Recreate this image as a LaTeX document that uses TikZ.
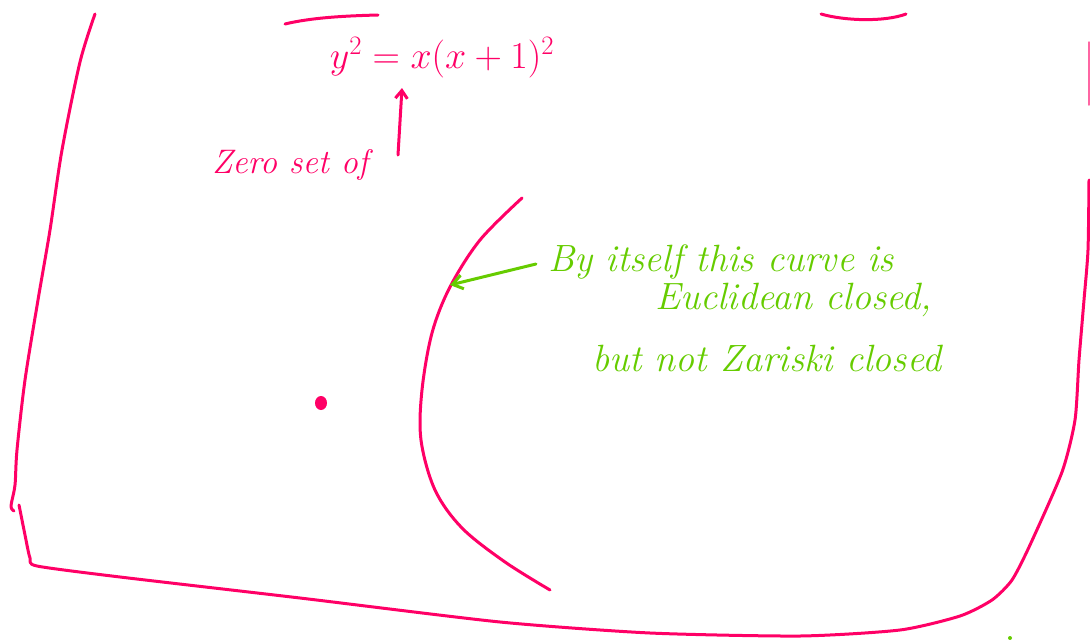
\RequirePackage{fix-cm}
\documentclass[tikz,border=0pt]{standalone}
\usepackage{fontspec}
\usetikzlibrary{arrows.meta}
\definecolor{pk}{HTML}{FF0066}
\definecolor{gr}{HTML}{66CC00}
\begin{document}
\begin{tikzpicture}[x=1pt,y=-1pt,
  pinkline/.style={draw=pk,line width=3pt,line cap=round,line join=round},
  greenline/.style={draw=gr,line width=3pt,line cap=round,line join=round},
  pinktext/.style={text=pk,font=\fontsize{34}{40}\selectfont\itshape,inner sep=0pt},
  greentext/.style={text=gr,font=\fontsize{38}{44}\selectfont\itshape,inner sep=0pt,anchor=west}]
\useasboundingbox (0,0) rectangle (1090,640);
% outer boundary
\draw[pinkline] plot[smooth,tension=0.5] coordinates {(95,14) (80,62) (62,150) (50,230) (38,300) (25,380) (17,450) (15,485) (11,506) (14,511)};
\draw[pinkline] plot[smooth,tension=0.4] coordinates {(19,505) (25,535) (30,558) (37,566) (120,577) (300,598) (500,622) (650,633) (800,636) (900,630) (960,616) (992,600) (1012,580) (1030,545) (1062,472) (1075,420) (1079,360) (1084,300) (1088,250) (1089,180)};
\draw[pinkline,line width=1.5pt,opacity=0.6] (1089,42) -- (1089,105);
\draw[pinkline] (285,24) .. controls (310,18) and (340,16) .. (378,15);
\draw[pinkline] (821,14) .. controls (845,21) and (885,22) .. (906,14);
% the curve
\draw[pinkline] plot[smooth,tension=0.55] coordinates {(522,198) (480,240) (450,287) (432,333) (422,390) (421,440) (435,490) (462,528) (505,562) (550,590)};
% isolated point
\fill[pk] (321,403) ellipse (6pt and 7pt);
% equation and label
\node[pinktext,font=\fontsize{38}{44}\selectfont] (eq) at (442,58) {$y^2 = x(x+1)^2$};
\node[pinktext] (zs) at (290,165) {Zero set of};
\coordinate (zarr) at (398,155);
\coordinate (earr) at (402,88);
\draw[pinkline,-{Straight Barb[length=8pt,width=12pt]}] (zarr) -- (earr);
% green annotation
\coordinate (ctip) at (450,285);
\node[greentext] (t1) at (548,262) {By itself this curve is};
\node[greentext] (t2) at (655,300) {Euclidean closed,};
\node[greentext] (t3) at (592,358) {but not Zariski closed};
\draw[greenline,-{Straight Barb[length=10pt,width=14pt]}] (t1.west) ++(-12,2) -- (ctip);
\fill[gr] (1010,638) circle (2pt);
\end{tikzpicture}
\end{document}
